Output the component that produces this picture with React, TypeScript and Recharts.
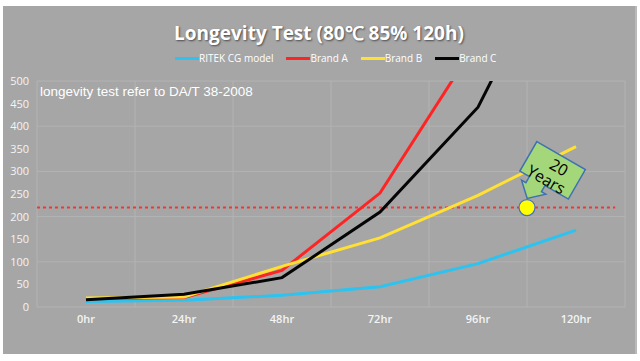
import React from 'react';
import { LineChart, Line, XAxis, YAxis, CartesianGrid, ReferenceLine, ReferenceDot } from 'recharts';

// values (percentages of change after hours in the chamber)
const hours = ['0hr', '24hr', '48hr', '72hr', '96hr', '120hr'];
const ritek = [12, 15, 26, 45, 96, 170];
const brandA = [18, 21, 81, 252, 590, 900];
const brandB = [20, 22, 90, 153, 247, 355];
const brandC = [16, 28, 65, 210, 442, 870];
const yTicks = [0, 50, 100, 150, 200, 250, 300, 350, 400, 450, 500];
const limitValue = 220;
const markerX = 5; // between 96hr and 120hr on the band grid axis
const bandTicks = [0, 1, 2, 3, 4, 5, 6];

const series = [
  { key: 'ritek', name: 'RITEK CG model', color: '#2cc3f0', values: ritek },
  { key: 'brandA', name: 'Brand A', color: '#ff2424', values: brandA },
  { key: 'brandB', name: 'Brand B', color: '#ffe033', values: brandB },
  { key: 'brandC', name: 'Brand C', color: '#050505', values: brandC },
];

const data = hours.map((h, i) => {
  const row: Record<string, string | number> = { hour: h };
  series.forEach(s => { row[s.key] = s.values[i]; });
  return row;
});

// band index of a category, so the hidden grid axis is a real number axis
const bandOf = (row: any) => hours.indexOf(row.hour) + 0.5;

const Callout = (props: any) => {
  const { cx, cy } = props;
  if (cx == null || cy == null) return null;
  return (
    <g>
      <g transform={`translate(${cx + 25.6}, ${cy - 37.2}) rotate(30)`}>
        <path
          d="M-28,-17 L28,-17 L28,17 L1,17 L1,24 L6,24 L-8,37 L-22,24 L-17,24 L-17,17 L-28,17 Z"
          fill="#a3d77a"
          stroke="#3f72b0"
          strokeWidth={1.5}
        />
        <text x={4} y={-6} textAnchor="middle" dominantBaseline="central" fontSize={16} fill="#000" fontFamily="'Open Sans', sans-serif">20</text>
        <text x={-1} y={11} textAnchor="middle" dominantBaseline="central" fontSize={16} fill="#000" fontFamily="'Open Sans', sans-serif">Years</text>
      </g>
      <circle cx={cx} cy={cy} r={8} fill="#ffff00" stroke="#4472c4" strokeWidth={1.2} />
    </g>
  );
};

export default function App() {
  return (
    <div style={{ position: 'relative', width: 640, height: 361, background: '#fff', overflow: 'hidden' }}>
      <style>{`body{margin:0}`}</style>
      <div style={{ position: 'absolute', left: 3, top: 6, width: 632, height: 348, background: '#a6a6a6', borderRight: '2px solid #b9b9b9' }}>
        <LineChart width={632} height={348} data={data} margin={{ top: 75, right: 10, bottom: 17, left: 0 }}>
          <CartesianGrid xAxisId="grid" stroke="#b3b3b3" strokeWidth={1} />
          <XAxis xAxisId="grid" dataKey={bandOf} type="number" domain={[0, 6]} ticks={bandTicks} allowDataOverflow hide />
          <XAxis
            dataKey="hour"
            padding={{ left: 49, right: 49 }}
            tickLine={false}
            axisLine={false}
            height={30}
            tick={{ fill: '#f4f4f4', fontSize: 11, fontWeight: 600, fontFamily: 'Open Sans' }}
          />
          <YAxis
            width={34}
            domain={[0, 500]}
            ticks={yTicks}
            allowDataOverflow
            tickLine={false}
            axisLine={false}
            tick={{ fill: '#f4f4f4', fontSize: 11, fontFamily: 'Open Sans' }}
          />
          <ReferenceLine
            xAxisId="grid"
            segment={[{ x: 0, y: limitValue }, { x: 5.9, y: limitValue }]}
            stroke="#ff3030"
            strokeWidth={2}
            strokeDasharray="3 3"
          />
          {series.map(s => (
            <Line
              key={s.key}
              type="linear"
              dataKey={s.key}
              name={s.name}
              stroke={s.color}
              strokeWidth={3}
              dot={false}
              isAnimationActive={false}
            />
          ))}
          <ReferenceDot xAxisId="grid" x={markerX} y={limitValue} r={8} shape={Callout} />
        </LineChart>
        <div style={{ position: 'absolute', left: 0, top: 14, width: 632, textAlign: 'center', color: '#fff', fontFamily: 'Open Sans', fontWeight: 700, fontSize: 19, textShadow: '1px 1px 2px rgba(0,0,0,0.55)' }}>
          Longevity Test (80℃ 85% 120h)
        </div>
        <div style={{ position: 'absolute', left: 172, top: 45, display: 'flex', alignItems: 'center', fontFamily: 'Open Sans', fontSize: 10, color: '#fff' }}>
          {series.map(s => (
            <div key={s.key} style={{ display: 'flex', alignItems: 'center', marginRight: 13 }}>
              <span style={{ display: 'inline-block', width: 24, height: 3, background: s.color }} />
              <span>{s.name}</span>
            </div>
          ))}
        </div>
        <div style={{ position: 'absolute', left: 37, top: 78, fontFamily: 'Liberation Sans', fontSize: 13.5, color: '#fff' }}>
          longevity test refer to DA/T 38-2008
        </div>
      </div>
    </div>
  );
}
